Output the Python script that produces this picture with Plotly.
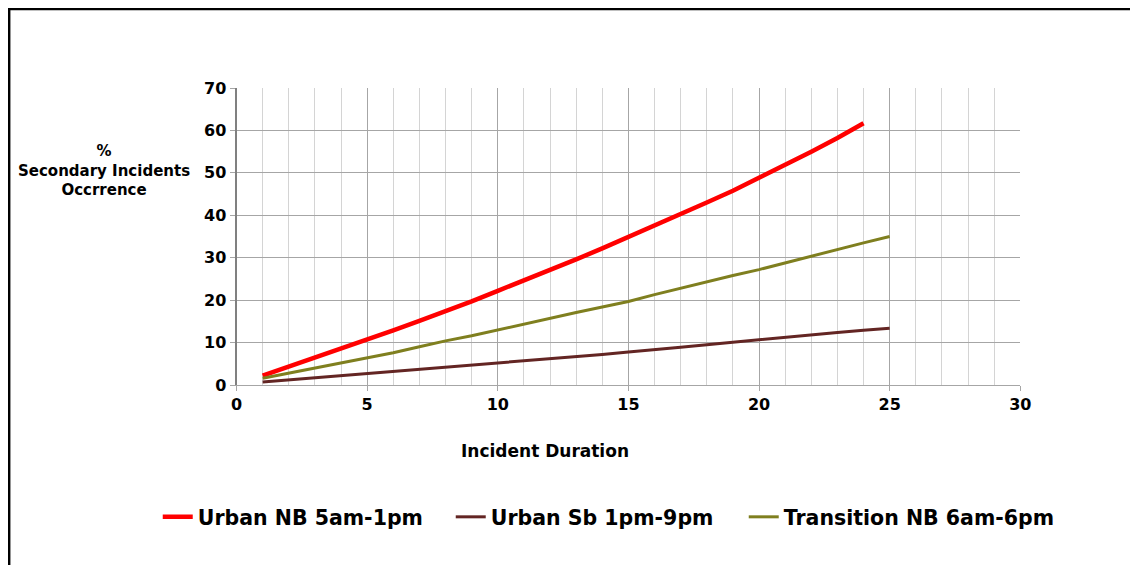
import plotly.graph_objects as go

x_red = list(range(1, 25))
y_red = [2.2, 4.3, 6.4, 8.6, 10.7, 12.9, 15.1, 17.3, 19.7, 22.2, 24.6, 27.1, 29.6, 32.2, 34.9, 37.4,
         40.2, 43.0, 45.8, 48.8, 51.8, 55.0, 58.2, 61.7]
x_olive = list(range(1, 26))
y_olive = [1.6, 2.8, 4.0, 5.2, 6.4, 7.6, 9.0, 10.4, 11.6, 13.0, 14.4, 15.8, 17.1, 18.4, 19.7, 21.3,
           22.8, 24.4, 25.8, 27.2, 28.8, 30.3, 32.0, 33.5, 35.0]
x_brown = list(range(1, 26))
y_brown = [0.7, 1.2, 1.7, 2.2, 2.6, 3.1, 3.6, 4.1, 4.7, 5.2, 5.7, 6.2, 6.7, 7.2, 7.8, 8.3,
           8.9, 9.5, 10.1, 10.7, 11.2, 11.9, 12.4, 12.9, 13.4]

series_names = ["Urban NB 5am-1pm", "Urban Sb 1pm-9pm", "Transition NB 6am-6pm"]

# layout geometry (canvas pixels; page is offset by 8px body margin)
W, H = 1138, 565
L, R, T, B = 60, 20, 80, 188
GW = W - L - R
GH = H - T - B
PLOT_X0, PLOT_X1 = 229, 1015   # canvas px of plot area


def px(xpage):
    return (xpage - 8 - L) / GW


def py(ypage):
    return (T + GH - (ypage - 8)) / GH


WIDE = "DejaVu Sans, Liberation Sans, Arial"

fig = go.Figure()
fig.add_trace(go.Scatter(x=x_red, y=y_red, mode="lines", name=series_names[0],
                         line=dict(color="#FF0000", width=4.5), legendwidth=248))
fig.add_trace(go.Scatter(x=x_brown, y=y_brown, mode="lines", name=series_names[1],
                         line=dict(color="#632523", width=3), legendwidth=248))
fig.add_trace(go.Scatter(x=x_olive, y=y_olive, mode="lines", name=series_names[2],
                         line=dict(color="#7F7F1F", width=3), legendwidth=276))

fig.update_layout(
    width=W, height=H,
    margin=dict(l=L, r=R, t=T, b=B),
    paper_bgcolor="white", plot_bgcolor="white",
    font=dict(family=WIDE, color="black"),
    showlegend=True,
    legend=dict(orientation="h", x=px(158), xanchor="left", y=py(517), yanchor="middle",
                font=dict(family=WIDE, size=20.5, color="black", weight="bold"),
                itemwidth=30, tracegroupgap=0, entrywidthmode="pixels",
                bgcolor="rgba(0,0,0,0)"),
    xaxis=dict(domain=[(PLOT_X0 - L) / GW, (PLOT_X1 - L) / GW], range=[0, 30], dtick=5, tick0=0,
               showgrid=True, gridcolor="#A6A6A6", gridwidth=1,
               minor=dict(dtick=1, showgrid=True, gridcolor="#D4D4D4", gridwidth=1),
               ticks="outside", ticklen=5, tickcolor="#A6A6A6",
               showline=True, linecolor="#A6A6A6", linewidth=1,
               tickfont=dict(family=WIDE, size=16, color="black", weight="bold"),
               zeroline=False),
    yaxis=dict(range=[0, 70], dtick=10, showgrid=True, gridcolor="#A6A6A6", gridwidth=1,
               ticks="outside", ticklen=5, tickcolor="#A6A6A6",
               showline=True, linecolor="#808080", linewidth=2,
               tickfont=dict(family=WIDE, size=16, color="black", weight="bold"),
               zeroline=False),
)

fig.add_annotation(text="<b>%<br>Secondary Incidents<br>Occrrence</b>", xref="paper", yref="paper",
                   x=px(104), y=py(170.5), xanchor="center", yanchor="middle", showarrow=False,
                   font=dict(family=WIDE, size=15, color="black"))

fig.add_annotation(text="<b>Incident Duration</b>", xref="paper", yref="paper",
                   x=px(546), y=py(451), xanchor="center", yanchor="middle", showarrow=False,
                   font=dict(family=WIDE, size=17, color="black"))

fig.add_shape(type="rect", xref="paper", yref="paper",
              x0=(1 - L) / GW, x1=(W + 20 - L) / GW,
              y0=py(H + 40), y1=(T + GH - 1) / GH,
              line=dict(color="black", width=2.5), fillcolor="rgba(0,0,0,0)", layer="below")

fig.write_html("out.html")
